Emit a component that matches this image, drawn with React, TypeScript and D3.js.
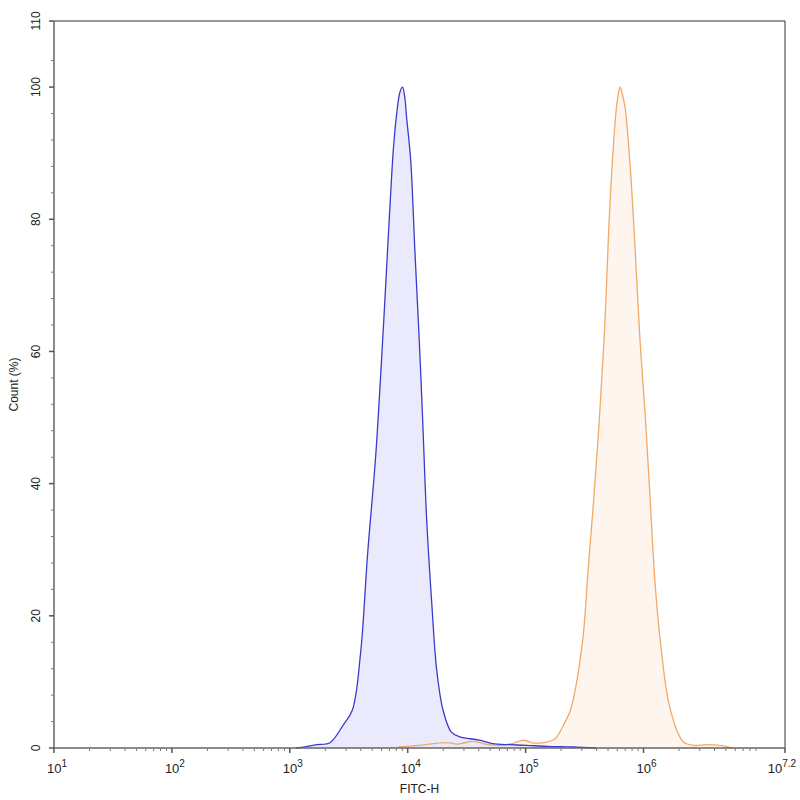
import { useEffect, useRef } from 'react';
import * as d3 from 'd3';

// log10(FITC-H) and count (%)
const blueLog: number[] = [3.05, 3.1, 3.23, 3.34, 3.45, 3.53, 3.6, 3.66, 3.73, 3.79, 3.84, 3.88, 3.91, 3.935, 3.956, 3.975, 3.99, 4.025, 4.062, 4.098, 4.127, 4.161, 4.204, 4.246, 4.3, 4.37, 4.44, 4.53, 4.61, 4.72, 4.87, 5.01, 5.18, 5.4, 5.6];
const blueCount: number[] = [0, 0.1, 0.5, 0.8, 3.4, 5.7, 14.3, 29.4, 44.6, 62.5, 78.9, 91, 96.5, 99.3, 100, 98.5, 95.5, 89, 74.8, 61.7, 49.6, 34.5, 21.9, 11.8, 5.7, 2.4, 1.7, 1.4, 1.2, 0.65, 0.5, 0.4, 0.25, 0.15, 0];

const orangeLog: number[] = [3.92, 4.1, 4.33, 4.42, 4.56, 4.67, 4.78, 4.9, 4.98, 5.07, 5.18, 5.25, 5.32, 5.38, 5.43, 5.49, 5.53, 5.575, 5.625, 5.67, 5.705, 5.735, 5.768, 5.79, 5.801, 5.815, 5.843, 5.885, 5.928, 5.97, 6.017, 6.058, 6.1, 6.154, 6.21, 6.282, 6.338, 6.42, 6.54, 6.65, 6.76];
const orangeCount: number[] = [0.15, 0.4, 0.8, 0.6, 1.0, 0.55, 0.4, 0.75, 1.17, 0.75, 0.9, 1.4, 3.4, 5.7, 9.7, 17.3, 26.9, 37, 49.6, 63.2, 78.4, 88.5, 96.5, 99.3, 100, 99.3, 97, 88.5, 75.8, 61.7, 49.6, 37, 24.4, 14.3, 7.2, 2.7, 0.9, 0.4, 0.5, 0.4, 0];

const xMajorExp: number[] = [1, 2, 3, 4, 5, 6];
const xEndExp = 7.2;
const yTicks: number[] = [0, 20, 40, 60, 80, 100, 110];

const App: React.FC = () => {
  const svgRef = useRef<SVGSVGElement | null>(null);

  useEffect(() => {
    if (!svgRef.current) return;
    const width = 800;
    const height = 800;
    const marginLeft = 54;
    const marginRight = 15;
    const marginTop = 21;
    const marginBottom = 52;

    const x = d3.scaleLinear().domain([1, xEndExp]).range([marginLeft, width - marginRight]);
    const y = d3.scaleLinear().domain([0, 110]).range([height - marginBottom, marginTop]);
    const y0 = height - marginBottom;

    const svg = d3.select(svgRef.current);
    svg.selectAll('*').remove();
    svg.append('rect').attr('width', width).attr('height', height).attr('fill', '#fff');

    const series = [
      { xs: orangeLog, ys: orangeCount, stroke: '#f0aa66', fill: '#fef5ec' },
      { xs: blueLog, ys: blueCount, stroke: '#3b3bc9', fill: '#e8e8fc' },
    ];

    const curve = d3.curveCatmullRom.alpha(0.5);
    const area = d3
      .area<[number, number]>()
      .x((d) => x(d[0]))
      .y0(y0)
      .y1((d) => y(Math.max(0, d[1])))
      .curve(curve);
    const line = d3
      .line<[number, number]>()
      .x((d) => x(d[0]))
      .y((d) => y(d[1]))
      .curve(curve);

    series.forEach((s) => {
      const pts: [number, number][] = s.xs.map((v, i) => [v, s.ys[i]]);
      svg.append('path').attr('d', area(pts)).attr('fill', s.fill).attr('opacity', 0.9);
    });
    series.forEach((s) => {
      const pts: [number, number][] = s.xs.map((v, i) => [v, s.ys[i]]);
      svg.append('path').attr('d', line(pts)).attr('fill', 'none').attr('stroke', s.stroke).attr('stroke-width', 1.3);
    });

    // frame
    svg.append('line').attr('x1', marginLeft).attr('x2', width - marginRight).attr('y1', marginTop).attr('y2', marginTop).attr('stroke', '#333');
    svg.append('line').attr('x1', width - marginRight).attr('x2', width - marginRight).attr('y1', marginTop).attr('y2', y0).attr('stroke', '#333');

    // x axis
    const gx = svg.append('g');
    gx.append('line').attr('x1', marginLeft).attr('x2', width - marginRight).attr('y1', y0).attr('y2', y0).attr('stroke', '#666').attr('stroke-width', 1.5);
    const minor: number[] = [];
    xMajorExp.forEach((e) => {
      for (let k = 2; k <= 9; k++) {
        const v = e + Math.log10(k);
        if (v < xEndExp) minor.push(v);
      }
    });
    gx.selectAll('.xminor').data(minor).enter().append('line')
      .attr('x1', (d) => x(d)).attr('x2', (d) => x(d)).attr('y1', y0).attr('y2', y0 + 3)
      .attr('stroke', '#777');
    const majors = [...xMajorExp, xEndExp];
    gx.selectAll('.xmajor').data(majors).enter().append('line')
      .attr('x1', (d) => x(d)).attr('x2', (d) => x(d)).attr('y1', y0).attr('y2', y0 + 5)
      .attr('stroke', '#555').attr('stroke-width', 1.5);
    const xl = gx.selectAll('.xlab').data(majors).enter().append('text')
      .attr('x', (d) => (d === xEndExp ? x(d) - 3 : x(d) + 3)).attr('y', y0 + 25)
      .attr('text-anchor', 'middle')
      .attr('font-family', 'Liberation Sans, Arial, sans-serif')
      .attr('font-size', 13).attr('fill', '#222');
    xl.append('tspan').text('10');
    xl.append('tspan').attr('dy', -6).attr('font-size', 10).text((d) => String(d));
    gx.append('text').attr('x', (marginLeft + width - marginRight) / 2).attr('y', y0 + 45)
      .attr('text-anchor', 'middle').attr('font-family', 'Liberation Sans, Arial, sans-serif')
      .attr('font-size', 12).attr('fill', '#222').text('FITC-H');

    // y axis
    const gy = svg.append('g');
    gy.append('line').attr('x1', marginLeft).attr('x2', marginLeft).attr('y1', marginTop).attr('y2', y0).attr('stroke', '#666').attr('stroke-width', 1.5);
    const yMinor = d3.range(4, 108, 4).filter((v) => v % 20 !== 0);
    gy.selectAll('.yminor').data(yMinor).enter().append('line')
      .attr('x1', marginLeft - 3).attr('x2', marginLeft).attr('y1', (d) => y(d)).attr('y2', (d) => y(d))
      .attr('stroke', '#777');
    gy.selectAll('.ymajor').data(yTicks).enter().append('line')
      .attr('x1', marginLeft - 5).attr('x2', marginLeft).attr('y1', (d) => y(d)).attr('y2', (d) => y(d))
      .attr('stroke', '#555').attr('stroke-width', 1.5);
    gy.selectAll('.ylab').data(yTicks).enter().append('text')
      .attr('transform', (d) => `translate(${marginLeft - 14},${y(d)}) rotate(-90)`)
      .attr('text-anchor', 'middle')
      .attr('font-family', 'Liberation Sans, Arial, sans-serif')
      .attr('font-size', 12).attr('fill', '#222')
      .text((d) => String(d));
    gy.append('text')
      .attr('transform', `translate(18,${(marginTop + y0) / 2}) rotate(-90)`)
      .attr('text-anchor', 'middle').attr('font-family', 'Liberation Sans, Arial, sans-serif')
      .attr('font-size', 12).attr('fill', '#222').text('Count (%)');
  }, []);

  return (
    <svg ref={svgRef} width={800} height={800} style={{ position: 'absolute', left: 0, top: 0 }}></svg>
  );
};

export default App;
